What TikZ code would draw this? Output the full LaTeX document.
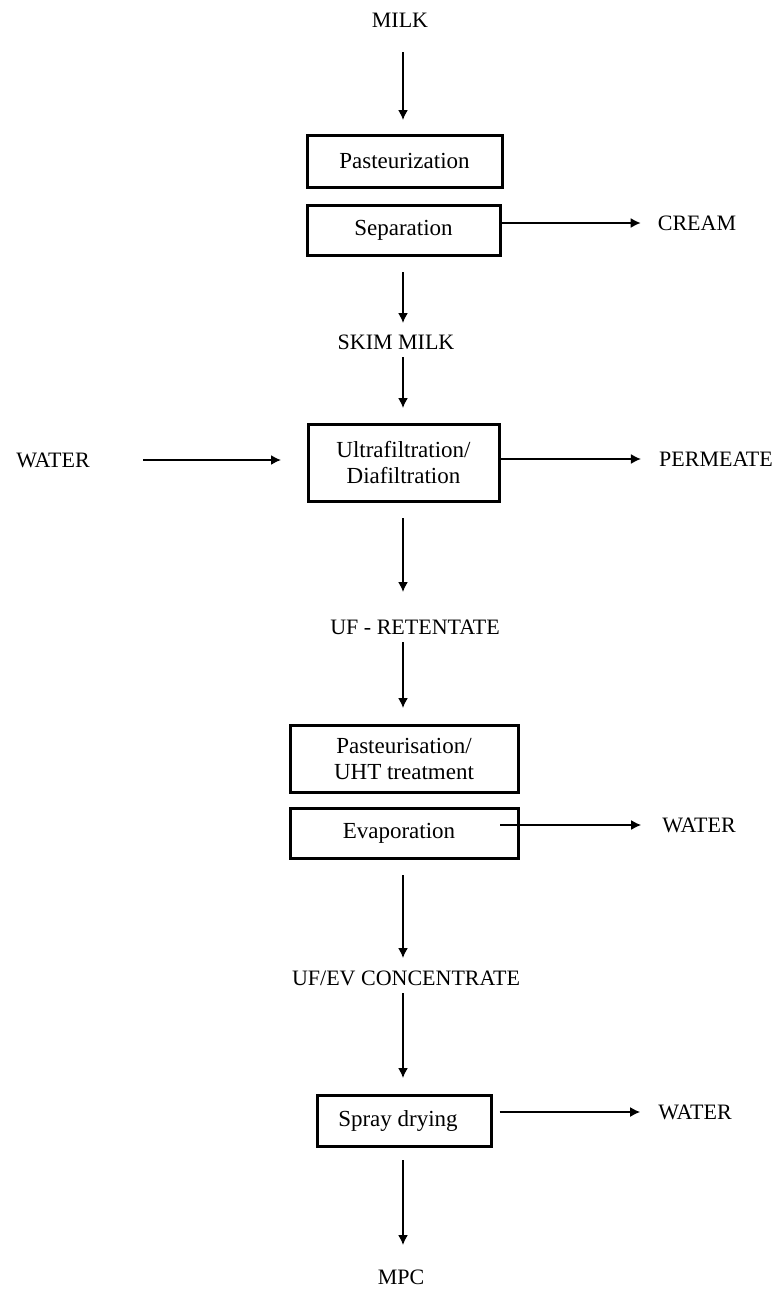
\documentclass[tikz,border=0pt]{standalone}
\usepackage{fontspec}
\setmainfont{Liberation Serif}
\usetikzlibrary{arrows.meta}
\tikzset{
  lbl/.style={inner sep=0pt, font=\fontsize{22}{26}\selectfont},
  procbox/.style={draw, line width=3pt, inner sep=0pt, font=\fontsize{23}{26}\selectfont, align=center},
  arr/.style={line width=1.6pt, -{Latex[length=10pt,width=10pt]}},
}
\begin{document}
\begin{tikzpicture}[x=1pt,y=-1pt]
\useasboundingbox (0,0) rectangle (782,1291);
% labels
\node[lbl] (milk) at (400,20) {MILK};
\node[lbl] (cream) at (697,223) {CREAM};
\node[lbl] (skim) at (396,342) {SKIM MILK};
\node[lbl] (water1) at (53,460) {WATER};
\node[lbl] (permeate) at (716,459) {PERMEATE};
\node[lbl] (ret) at (415,627) {UF - RETENTATE};
\node[lbl] (water2) at (699,825) {WATER};
\node[lbl] (conc) at (406,978) {UF/EV CONCENTRATE};
\node[lbl] (water3) at (695,1112) {WATER};
\node[lbl] (mpc) at (401,1277) {MPC};
% boxes
\node[procbox, minimum width=195pt, minimum height=52pt] (past) at (404.5,161) {Pasteurization};
\node[procbox, minimum width=193pt, minimum height=50pt] (sep) at (403.5,230) {Separation};
\node[procbox, minimum width=191pt, minimum height=77pt] (uf) at (403.5,462.5) {Ultrafiltration/\\Diafiltration};
\node[procbox, minimum width=228pt, minimum height=67pt] (uht) at (404,758.5) {Pasteurisation/\\UHT treatment};
\node[procbox, minimum width=228pt, minimum height=50pt] (evap) at (404,833) {\hspace*{-10pt}Evaporation};
\node[procbox, minimum width=174pt, minimum height=51pt] (spray) at (404,1120.5) {\hspace*{-12pt}Spray drying};
% arrow end points
\coordinate (m1) at (403,52);
\coordinate (m2) at (403,120);
\coordinate (s1) at (403,272);
\coordinate (s2) at (403,323);
\coordinate (s3) at (403,357);
\coordinate (s4) at (403,408);
\coordinate (w1a) at (143,460);
\coordinate (w1b) at (281,460);
\coordinate (r1) at (403,518);
\coordinate (r2) at (403,592);
\coordinate (r3) at (403,642);
\coordinate (r4) at (403,708);
\coordinate (ev1) at (500,825);
\coordinate (c1) at (403,875);
\coordinate (c2) at (403,958);
\coordinate (c3) at (403,993);
\coordinate (c4) at (403,1078);
\coordinate (p1) at (403,1160);
\coordinate (p2) at (403,1245);
% connectors
\draw[arr] (m1) -- (m2);
\draw[arr] (sep.east |- cream) -- ([xshift=-17pt]cream.west);
\draw[arr] (s1) -- (s2);
\draw[arr] (s3) -- (s4);
\draw[arr] (w1a) -- (w1b);
\draw[arr] (uf.east |- permeate) -- ([xshift=-18pt]permeate.west);
\draw[arr] (r1) -- (r2);
\draw[arr] (r3) -- (r4);
\draw[arr] (ev1) -- ([xshift=-21pt]water2.west);
\draw[arr] (c1) -- (c2);
\draw[arr] (c3) -- (c4);
\draw[arr] ([xshift=7pt]spray.east |- water3) -- ([xshift=-18pt]water3.west);
\draw[arr] (p1) -- (p2);
\end{tikzpicture}
\end{document}
